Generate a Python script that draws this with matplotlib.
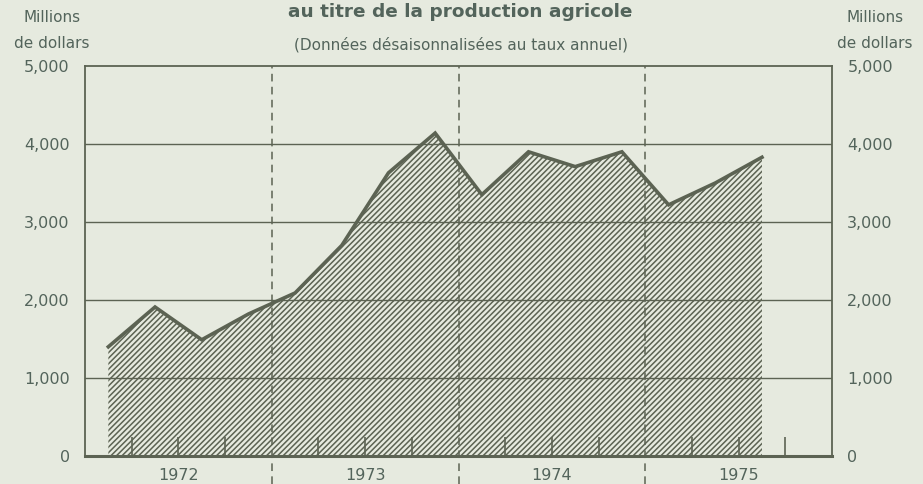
import numpy as np
import matplotlib
matplotlib.use("Agg")
import matplotlib.pyplot as plt
import matplotlib.transforms as mtransforms

# Quarterly values, millions of dollars
years = [1972]*4 + [1973]*4 + [1974]*4 + [1975]*3
quarters = [1, 2, 3, 4, 1, 2, 3, 4, 1, 2, 3, 4, 1, 2, 3]
values = [1400, 1910, 1490, 1820,
          2090, 2700, 3630, 4140,
          3350, 3900, 3710, 3900,
          3220, 3500, 3830]

year_labels = ['1972', '1973', '1974', '1975']
y_ticks = [0, 1000, 2000, 3000, 4000, 5000]
y_ticklabels = ['0', '1,000', '2,000', '3,000', '4,000', '5,000']

bg = '#e6eadf'
ink = '#5c6353'
txt = '#53645b'

plt.rcParams['font.family'] = ['DejaVu Sans']
plt.rcParams['hatch.linewidth'] = 1.1
plt.rcParams['hatch.color'] = ink

fig = plt.figure(figsize=(9.23, 4.84), dpi=100, facecolor=bg)
ax = fig.add_axes([0.0921, 0.0579, 0.8093, 0.8057], facecolor=bg)

x = np.array(years) + (np.array(quarters) - 0.5) / 4.0
v = np.array(values)

ax.fill_between(x, 0, v, facecolor=bg, edgecolor=ink, hatch='//////', linewidth=0)
ax.plot(x, v, color=ink, lw=2.6, solid_joinstyle='miter')

ax.set_xlim(1972, 1976)
ax.set_ylim(0, 5000)

# grid lines
for yv in y_ticks[1:-1]:
    ax.axhline(yv, color=ink, lw=1.0, zorder=3)
for yr in [1973, 1974, 1975]:
    ax.vlines(yr, -360, 5000, colors=ink, lw=1.1, linestyles=(0, (5, 3.5)),
              clip_on=False, zorder=3)

# quarter ticks
qt = [yr + q/4 for yr in range(1972, 1976) for q in (1, 2, 3)]
ax.set_xticks(qt)
ax.set_xticklabels([])
ax.tick_params(axis='x', direction='in', length=14, width=1.2, color=ink)

# year labels under the middle of each year
trans = mtransforms.blended_transform_factory(ax.transData, ax.transAxes)
for i, lab in enumerate(year_labels):
    ax.text(1972.5 + i, -0.05, lab, transform=trans, ha='center', va='center',
            fontsize=11.5, color=txt)

ax.set_yticks(y_ticks)
ax.set_yticklabels(y_ticklabels)
ax.tick_params(axis='y', length=0, pad=11, labelsize=11.5, labelcolor=txt,
               labelright=True)

for s in ['left', 'right', 'top']:
    ax.spines[s].set_color(ink)
    ax.spines[s].set_linewidth(1.3)
ax.spines['bottom'].set_color(ink)
ax.spines['bottom'].set_linewidth(2.2)

# titles and unit labels
fig.text(0.499, 0.975, 'au titre de la production agricole', ha='center', va='center',
         fontsize=13.3, fontweight='bold', color=txt)
fig.text(0.499, 0.907, '(Données désaisonnalisées au taux annuel)', ha='center',
         va='center', fontsize=11, color=txt)
for xx in (0.056, 0.948):
    fig.text(xx, 0.963, 'Millions', ha='center', va='center', fontsize=11, color=txt)
    fig.text(xx, 0.911, 'de dollars', ha='center', va='center', fontsize=11, color=txt)

fig.savefig('out.png', dpi=100, facecolor=bg)
